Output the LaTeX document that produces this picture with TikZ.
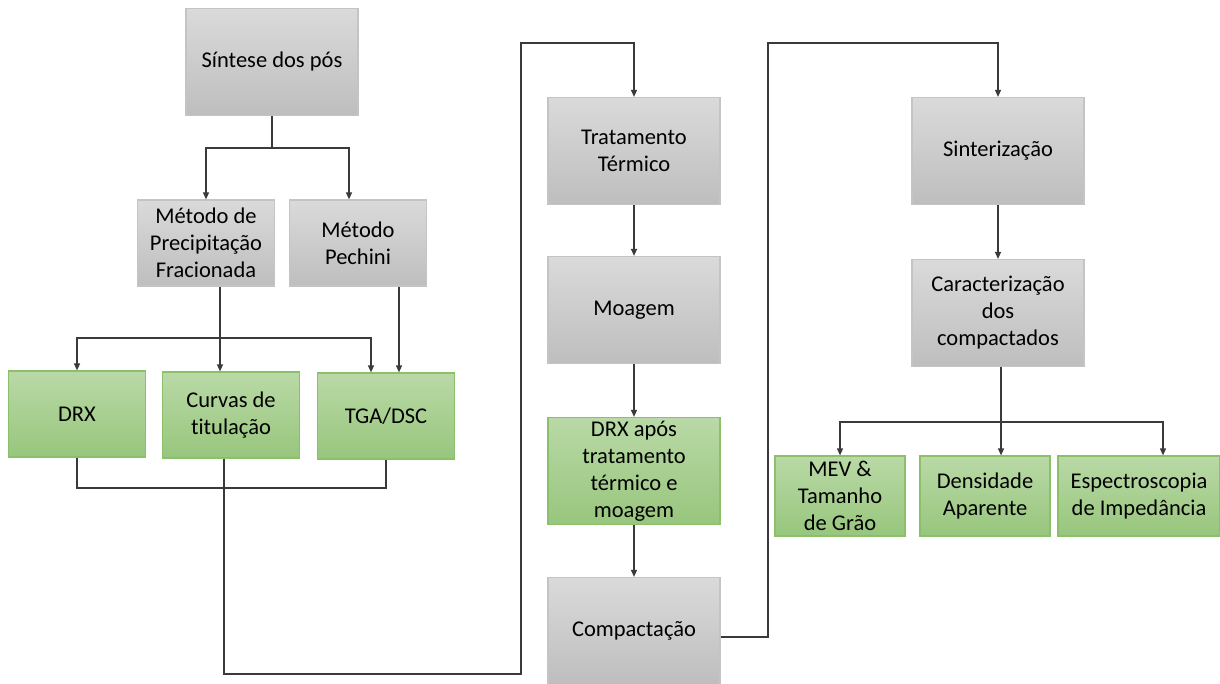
\documentclass[tikz,border=0pt]{standalone}
\usepackage{fontspec}
\setmainfont[Ligatures=NoCommon]{Carlito}
\usepackage{tikz}
\usetikzlibrary{arrows.meta}
\definecolor{grayTop}{HTML}{DADADA}
\definecolor{grayBot}{HTML}{BEBEBE}
\definecolor{grayLine}{HTML}{C4C4C4}
\definecolor{greenTop}{HTML}{B9D9A6}
\definecolor{greenBot}{HTML}{98C67D}
\definecolor{greenLine}{HTML}{8BC06B}
\definecolor{wire}{HTML}{3A3A3A}
\tikzset{graybox/.style={draw=grayLine, top color=grayTop, bottom color=grayBot, rectangle, inner sep=0pt, align=center, font=\fontsize{22.5}{27}\selectfont},
  greenbox/.style={draw=greenLine, top color=greenTop, bottom color=greenBot, rectangle, inner sep=0pt, align=center, font=\fontsize{22.5}{27}\selectfont},
  wide/.style={minimum width=172, minimum height=107},
  mid/.style={minimum width=137, minimum height=86},
  small/.style={minimum width=130, minimum height=80},
  arr/.style={-{Triangle[length=7pt,width=6pt]}}}

\begin{document}
\begin{tikzpicture}[x=1pt, y=-1pt, draw=wire, line width=1.2pt]
  \useasboundingbox (0,0) rectangle (1220,684);
  % first column
  \node [graybox, wide] (sintese) at (272,62) {Síntese dos pós};
  \node [graybox, mid] (precip) at (206,243) {Método de\\Precipitação\\Fracionada};
  \node [graybox, mid] (pechini) at (358,243) {Método\\Pechini};
  \node [greenbox, mid] (drx) at (77,414) {DRX};
  \node [greenbox, mid] (curvas) at (231,415) {Curvas de\\titulação};
  \node [greenbox, mid] (tga) at (386,416) {TGA/DSC};
  % middle column
  \node [graybox, wide] (trat) at (634,151) {Tratamento\\Térmico};
  \node [graybox, wide] (moagem) at (634,310) {Moagem};
  \node [greenbox, wide] (drxpos) at (634,471) {DRX após\\tratamento\\térmico e\\moagem};
  \node [graybox, wide] (compact) at (634,631) {Compactação};
  % right column
  \node [graybox, wide] (sinter) at (998,151) {Sinterização};
  \node [graybox, wide] (carac) at (998,313) {Caracterização\\dos\\compactados};
  \node [greenbox, small] (mev) at (840,496) {MEV \&\\Tamanho\\de Grão};
  \node [greenbox, small] (dens) at (985,496) {Densidade\\Aparente};
  \node [greenbox, small, minimum width=162] (espec) at (1139,496) {Espectroscopia\\de Impedância};

  \coordinate (j1) at (272,148);
  \draw (sintese.south) -- (j1);
  \draw [arr] (j1) -| (precip.north);
  \draw [arr] (j1) -| ([xshift=-9pt]pechini.north);
  \coordinate (j2) at (220,338);
  \draw ([xshift=14pt]precip.south) -- (j2);
  \draw [arr] (j2) -| (drx.north);
  \draw [arr] (j2) -- ([xshift=-11pt]curvas.north);
  \draw [arr] (j2) -| ([xshift=-15pt]tga.north);
  \draw [arr] ([xshift=41pt]pechini.south) -- ([xshift=13pt]tga.north);
  \coordinate (j3) at (224,488);
  \draw (drx.south) |- (j3) -| (tga.south);
  \coordinate (loopA) at (521,674);
  \coordinate (loopB) at (521,43);
  \draw [arr] ([xshift=-7pt]curvas.south) |- (loopA) -- (loopB) -| (trat.north);
  \draw [arr] (trat) -- (moagem);
  \draw [arr] (moagem) -- (drxpos);
  \draw [arr] (drxpos) -- (compact);
  \coordinate (loopC) at (768,43);
  \draw [arr] ([yshift=-6pt]compact.east) -| (loopC) -| (sinter.north);
  \draw [arr] (sinter) -- (carac);
  \coordinate (j4) at (1001,422);
  \draw ([xshift=3pt]carac.south) -- (j4);
  \draw [arr] (j4) -| (mev.north);
  \draw [arr] (j4) -- ([xshift=16pt]dens.north);
  \draw [arr] (j4) -| ([xshift=24pt]espec.north);
\end{tikzpicture}
\end{document}
